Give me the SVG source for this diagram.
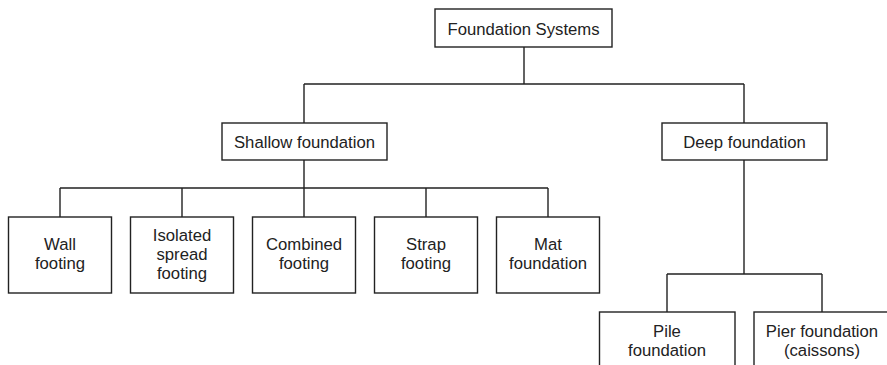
<svg xmlns="http://www.w3.org/2000/svg" width="887" height="365" viewBox="0 0 887 365">
  <style>
    .box { fill: #ffffff; stroke: #222222; stroke-width: 1.4; }
    .wire { fill: none; stroke: #222222; stroke-width: 1.4; }
    text { font-family: "Liberation Sans", Arial, Helvetica, sans-serif; font-size: 16.7px; fill: #222222; text-anchor: middle; }
  </style>
  <rect width="887" height="365" fill="#ffffff"/>

  <g id="connectors">
    <path class="wire" d="M524 47 V84 M304 84 H744 M304 84 V123 M744 84 V123"/>
    <path class="wire" d="M304 160 V188 M60 188 H548 M60 188 V217 M182 188 V217 M304 188 V217 M426 188 V217 M548 188 V217"/>
    <path class="wire" d="M744 160 V274 M667 274 H822 M667 274 V312 M822 274 V312"/>
  </g>

  <g id="foundation-systems">
    <rect class="box" x="435" y="9" width="177" height="38"/>
    <text x="523.5" y="35">Foundation Systems</text>
  </g>

  <g id="shallow-foundation">
    <rect class="box" x="222" y="123" width="165" height="37"/>
    <text x="304.5" y="148">Shallow foundation</text>
  </g>

  <g id="deep-foundation">
    <rect class="box" x="662" y="123" width="165" height="37"/>
    <text x="744.5" y="148">Deep foundation</text>
  </g>

  <g id="wall-footing">
    <rect class="box" x="8.5" y="217" width="103" height="76"/>
    <text x="60" y="250">Wall</text>
    <text x="60" y="269">footing</text>
  </g>

  <g id="isolated-spread-footing">
    <rect class="box" x="130.5" y="217" width="103" height="76"/>
    <text x="182" y="240.5">Isolated</text>
    <text x="182" y="259.5">spread</text>
    <text x="182" y="278.5">footing</text>
  </g>

  <g id="combined-footing">
    <rect class="box" x="252.5" y="217" width="103" height="76"/>
    <text x="304" y="250">Combined</text>
    <text x="304" y="269">footing</text>
  </g>

  <g id="strap-footing">
    <rect class="box" x="374.5" y="217" width="103" height="76"/>
    <text x="426" y="250">Strap</text>
    <text x="426" y="269">footing</text>
  </g>

  <g id="mat-foundation">
    <rect class="box" x="496.5" y="217" width="103" height="76"/>
    <text x="548" y="250">Mat</text>
    <text x="548" y="269">foundation</text>
  </g>

  <g id="pile-foundation">
    <rect class="box" x="599.5" y="312" width="135.5" height="76"/>
    <text x="667" y="337">Pile</text>
    <text x="667" y="356">foundation</text>
  </g>

  <g id="pier-foundation">
    <rect class="box" x="754" y="312" width="136" height="76"/>
    <text x="822" y="337">Pier foundation</text>
    <text x="822" y="356">(caissons)</text>
  </g>
</svg>
